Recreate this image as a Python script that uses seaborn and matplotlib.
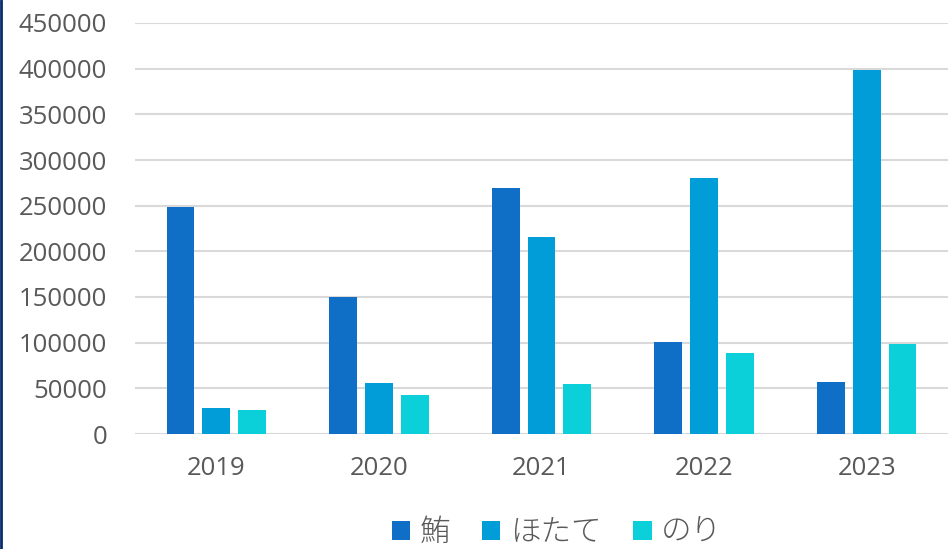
import matplotlib
matplotlib.use("Agg")
import matplotlib.pyplot as plt
import seaborn as sns
import pandas as pd
from matplotlib.lines import Line2D
from matplotlib.patches import Patch

years = ["2019", "2020", "2021", "2022", "2023"]
series_names = ["鮪", "ほたて", "のり"]
maguro = [249000, 150000, 269000, 101000, 57000]
hotate = [28000, 56000, 216000, 280000, 398000]
nori = [26000, 43000, 55000, 89000, 99000]
colors = ["#0F6FC6", "#009DD9", "#0BD0D9"]
yticks = list(range(0, 450001, 50000))

df = pd.DataFrame({
    "year": years * 3,
    "series": [series_names[0]] * 5 + [series_names[1]] * 5 + [series_names[2]] * 5,
    "value": maguro + hotate + nori,
})

sns.set_theme(style="white")
plt.rcParams["font.family"] = ["Open Sans", "Noto Sans CJK JP", "DejaVu Sans"]

fig = plt.figure(figsize=(9.48, 5.49), dpi=100)
ax = fig.add_axes([135 / 948, 1 - 434 / 549, 1 - 135 / 948, (434 - 23) / 549])

sns.barplot(data=df, x="year", y="value", hue="series", palette=colors,
            width=0.66, gap=0.22, ax=ax, legend=False, saturation=1,
            edgecolor="none")

ax.set_ylim(0, 450000)
ax.set_xlim(-0.5, 4.5)
ax.set_yticks(yticks)
ax.set_yticklabels([str(v) for v in yticks])
ax.yaxis.grid(True, color="#D9D9D9", linewidth=1.5)
ax.set_axisbelow(True)
for s in ax.spines.values():
    s.set_visible(False)
ax.set_xlabel("")
ax.set_ylabel("")
ax.tick_params(axis="y", length=0, pad=20, labelsize=18.5, labelcolor="#595959")
ax.tick_params(axis="x", length=0, pad=16, labelsize=18.5, labelcolor="#595959")

handles = [Patch(facecolor=c, edgecolor="none") for c in colors]
fig.legend(handles, series_names, loc="center left", bbox_to_anchor=(392 / 948, 1 - 532 / 549),
           ncol=3, frameon=False,
           prop={"family": ["Noto Sans CJK JP", "DejaVu Sans"], "size": 22, "weight": "light"},
           labelcolor="#595959", handlelength=0.6, handleheight=0.6, handletextpad=0.3,
           columnspacing=1.05, borderpad=0, borderaxespad=0)

fig.add_artist(Line2D([0.001, 0.001], [0, 1], color="#0A2A6E", linewidth=2,
                      transform=fig.transFigure))

fig.savefig("out.png", dpi=100)
